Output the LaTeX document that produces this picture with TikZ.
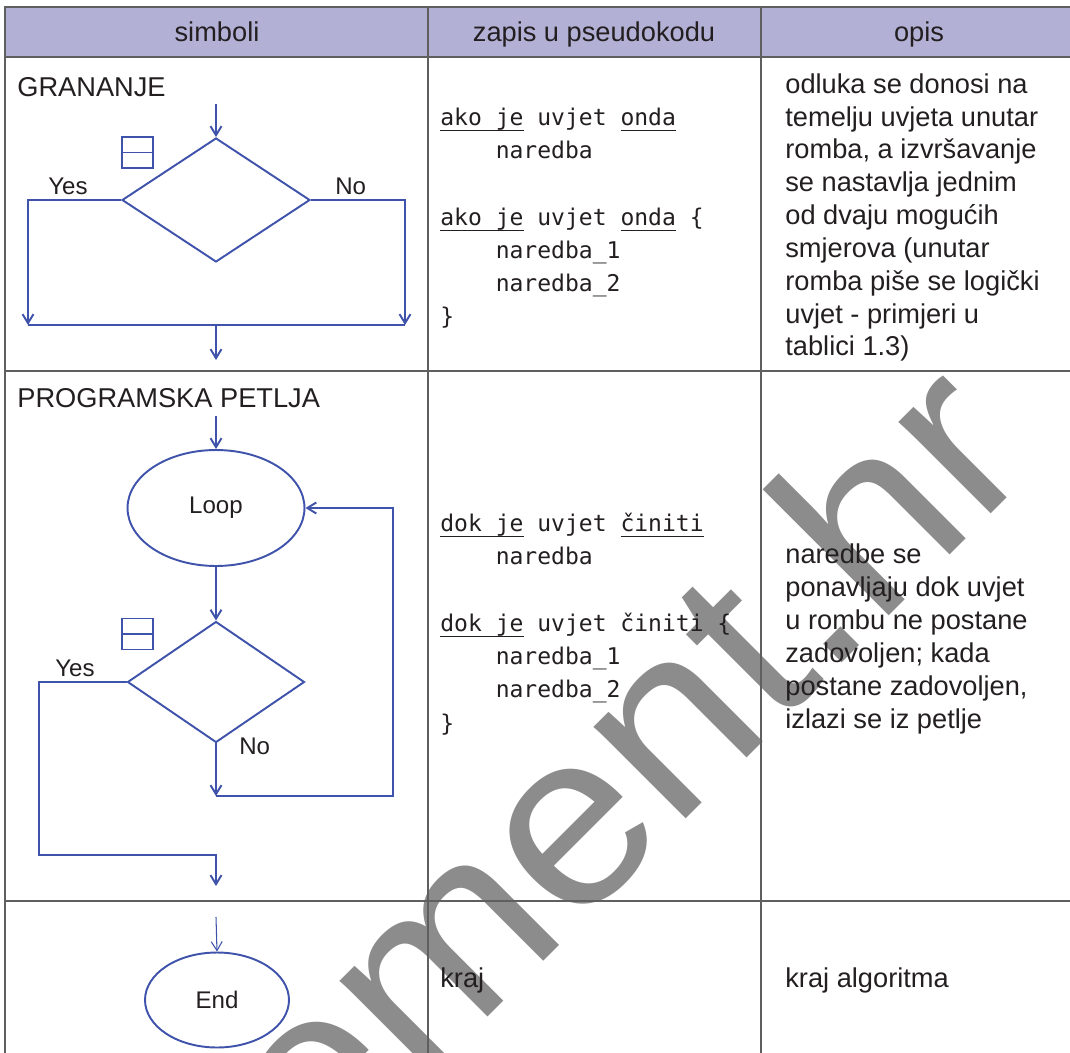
\documentclass[tikz,border=0pt]{standalone}
\usepackage{fontspec}
\setmainfont{Liberation Sans}
\newfontfamily\codefont{DejaVu Sans Mono}
\newfontfamily\markfont[FakeStretch=1.05]{Liberation Sans}
\usetikzlibrary{shapes.geometric,arrows.meta}

\definecolor{flowblue}{RGB}{63,83,170}
\definecolor{headfill}{RGB}{179,176,214}
\definecolor{rulegray}{RGB}{95,95,95}
\definecolor{inkblack}{RGB}{35,31,32}
\definecolor{markgray}{RGB}{140,140,140}

\newcommand{\kw}[1]{\setbox0=\hbox{#1}\rlap{\rule[-3.2pt]{\wd0}{0.7pt}}\box0\relax}
\newcommand{\ind}{\hspace*{2.408em}}

\tikzset{
    flow/.style={line width=1.1pt, draw=flowblue, -{Straight Barb[length=1.8mm,width=2.2mm]}},
    link/.style={line width=1.1pt, draw=flowblue},
    cond/.style={diamond, draw=flowblue, line width=1.1pt, inner sep=0pt},
    term/.style={ellipse, draw=flowblue, line width=1.1pt, inner sep=0pt, font=\fontsize{13.7}{16}\selectfont},
    minisym/.style={rectangle, draw=flowblue, line width=1.1pt, minimum size=0.62cm, inner sep=0pt},
    body/.style={anchor=base west, inner sep=0pt, align=left, font=\fontsize{15.5}{18.7}\selectfont},
    code/.style={anchor=base west, inner sep=0pt, align=left, font=\codefont\fontsize{13.1}{18.9}\selectfont},
    tag/.style={anchor=base west, inner sep=0pt, font=\fontsize{13.7}{16}\selectfont},
    head/.style={anchor=base, inner sep=0pt, font=\fontsize{15.5}{18.7}\selectfont},
}

\begin{document}
\begin{tikzpicture}[x=0.02cm, y=-0.02cm, text=inkblack]
    \useasboundingbox (0,0) rectangle (1070,1053);

    % Watermark
    \node[text=markgray, font=\markfont\fontsize{140}{140}\selectfont, rotate=45, anchor=base west, inner sep=0pt] (mark) at (176,1329) {element.hr};

    % Table
    \fill[headfill] (5,7) rectangle (1078,57);
    \draw[rulegray, line width=0.7pt] (1078,7) -- (5,7) -- (5,1060);
    \draw[rulegray, line width=0.7pt] (5,57) -- (1078,57);
    \draw[rulegray, line width=0.7pt] (5,371) -- (1078,371);
    \draw[rulegray, line width=0.7pt] (5,901) -- (1078,901);
    \draw[rulegray, line width=0.7pt] (428,7) -- (428,1060);
    \draw[rulegray, line width=0.7pt] (761,7) -- (761,1060);

    \node[head] (h_sym) at (217,42) {simboli};
    \node[head] (h_code) at (594,42) {zapis u pseudokodu};
    \node[head] (h_desc) at (919,42) {opis};

    % Branching
    \node[body] (gran) at (17,97) {GRANANJE};
    \coordinate (in1) at (216,104);
    \node[cond, minimum width=3.76cm, minimum height=2.48cm] (d1) at (216,200) {};
    \node[minisym] (s1) at (137.5,152.5) {};
    \draw[link] (s1.west) -- (s1.east);
    \coordinate (yl1) at (28,325);
    \coordinate (nr1) at (405,325);
    \coordinate (j1) at (216,325);
    \coordinate (out1) at (216,360);
    \node[tag] (yes1) at (48,195) {Yes};
    \node[tag] (no1) at (335,195) {No};

    \draw[flow] (in1) -- (d1.north);
    \draw[flow] (d1.west) -| (yl1);
    \draw[flow] (d1.east) -| (nr1);
    \draw[link] (yl1) -- (nr1);
    \draw[flow] (j1) -- (out1);

    % multi-line nodes sit on their last line
    \node[code] (code1) at (440,325) {\kw{ako je} uvjet \kw{onda}\\ \ind naredba\\[18.9pt] \kw{ako je} uvjet \kw{onda} \{\\ \ind naredba\_1\\ \ind naredba\_2\\ \}};
    \node[body] (desc1) at (785,356) {odluka se donosi na\\ temelju uvjeta unutar\\ romba, a izvršavanje\\ se nastavlja jednim\\ od dvaju mogućih\\ smjerova (unutar\\ romba piše se logički\\ uvjet - primjeri u\\ tablici 1.3)};

    % Loop
    \node[body] (petlja) at (17,408) {PROGRAMSKA PETLJA};
    \coordinate (in2) at (216,416);
    \node[term, minimum width=3.54cm, minimum height=2.32cm] (loop) at (216,508) {Loop};
    \node[cond, minimum width=3.54cm, minimum height=2.42cm] (d2) at (216,682) {};
    \node[minisym] (s2) at (137.5,634) {};
    \draw[link] (s2.west) -- (s2.east);
    \coordinate (yl2) at (39,855);
    \coordinate (out2) at (216,886);
    \coordinate (back) at (216,796);
    \coordinate (rb) at (393,796);
    \node[tag] (yes2) at (55,676) {Yes};
    \node[tag] (no2) at (239,754) {No};

    \draw[flow] (in2) -- (loop.north);
    \draw[flow] (loop.south) -- (d2.north);
    \draw[flow] (d2.west) -| (yl2) -| (out2);
    \draw[flow] (d2.south) -- (back);
    \draw[flow] (back) -- (rb) |- (loop.east);

    \node[code] (code2) at (440,731) {\kw{dok je} uvjet \kw{činiti}\\ \ind naredba\\[18.9pt] \kw{dok je} uvjet činiti \{\\ \ind naredba\_1\\ \ind naredba\_2\\ \}};
    \node[body] (desc2) at (785,728) {naredbe se\\ ponavljaju dok uvjet\\ u rombu ne postane\\ zadovoljen; kada\\ postane zadovoljen,\\ izlazi se iz petlje};

    % End
    \coordinate (in3) at (216,917);
    \node[term, minimum width=2.88cm, minimum height=1.9cm] (end) at (217,1000) {End};
    \draw[flow, line width=0.6pt] (in3) -- (end.north);

    \node[body] (kraj) at (440,987) {kraj};
    \node[body] (krajalg) at (785,987) {kraj algoritma};
\end{tikzpicture}
\end{document}
